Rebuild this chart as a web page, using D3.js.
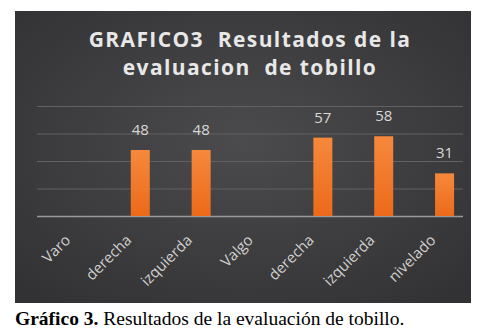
<!DOCTYPE html>
<html>
<head>
<meta charset="utf-8">
<script src="https://cdn.jsdelivr.net/npm/d3@7"></script>
<style>
  body { margin: 0; background: #fff; }
</style>
</head>
<body>
<svg id="chart" width="485" height="328"></svg>
<script>
// data
var categories = ["Varo", "derecha", "izquierda", "Valgo", "derecha ", "izquierda ", "nivelado"];
var values = [null, 48, 48, null, 57, 58, 31];
var yTicks = [0, 20, 40, 60, 80];
var titleLines = ["GRAFICO3  Resultados de la", "evaluacion  de tobillo"];

var svg = d3.select("#chart");
var box = {x: 15, y: 11, w: 456, h: 292};
var plot = {left: 37, right: 463, top: 106, bottom: 216};

var defs = svg.append("defs");
var bg = defs.append("radialGradient").attr("id", "bg")
    .attr("cx", "50%").attr("cy", "45%").attr("r", "70%");
bg.append("stop").attr("offset", "0%").attr("stop-color", "#4b4a4c");
bg.append("stop").attr("offset", "100%").attr("stop-color", "#323133");

var barGrad = defs.append("linearGradient").attr("id", "bar")
    .attr("x1", 0).attr("x2", 0).attr("y1", 0).attr("y2", 1);
barGrad.append("stop").attr("offset", "0%").attr("stop-color", "#f6883c");
barGrad.append("stop").attr("offset", "100%").attr("stop-color", "#ec6a1a");

svg.append("rect")
    .attr("x", box.x).attr("y", box.y)
    .attr("width", box.w).attr("height", box.h)
    .attr("fill", "url(#bg)");

// title
svg.append("g").selectAll("text")
    .data(titleLines)
    .enter().append("text")
      .attr("x", 250)
      .attr("y", function(d, i) { return 47 + i * 28; })
      .attr("text-anchor", "middle")
      .attr("fill", "#e8e8e8")
      .attr("font-family", "Open Sans, sans-serif")
      .attr("font-weight", "bold")
      .attr("font-size", 21)
      .attr("letter-spacing", 1.4)
      .style("white-space", "pre")
      .text(function(d) { return d; });

var x = d3.scaleBand()
    .domain(categories.map(function(d, i) { return i; }))
    .range([plot.left, plot.right]);

var y = d3.scaleLinear()
    .domain([0, 80])
    .range([plot.bottom, plot.top]);

// gridlines
svg.append("g").selectAll("line")
    .data(yTicks)
    .enter().append("line")
      .attr("x1", plot.left).attr("x2", plot.right)
      .attr("y1", function(d) { return y(d) + 0.5; })
      .attr("y2", function(d) { return y(d) + 0.5; })
      .attr("stroke", function(d) { return d === 0 ? "#9a9a9c" : "#626164"; })
      .attr("stroke-width", function(d) { return d === 0 ? 1.5 : 1; });

// bars sit a little right of the label ticks in the original
var shift = 12, barW = 19;
var data = values.map(function(v, i) { return {i: i, v: v}; })
    .filter(function(d) { return d.v != null; });

svg.append("g").selectAll("rect")
    .data(data)
    .enter().append("rect")
      .attr("x", function(d) { return x(d.i) + x.bandwidth() / 2 + shift - barW / 2; })
      .attr("y", function(d) { return y(d.v); })
      .attr("width", barW)
      .attr("height", function(d) { return y(0) - y(d.v); })
      .attr("fill", "url(#bar)");

svg.append("g").selectAll("text")
    .data(data)
    .enter().append("text")
      .attr("x", function(d) { return x(d.i) + x.bandwidth() / 2 + shift; })
      .attr("y", function(d) { return y(d.v) - 15; })
      .attr("text-anchor", "middle")
      .attr("fill", "#d8d8d8")
      .attr("font-family", "Open Sans, sans-serif")
      .attr("font-size", 15)
      .text(function(d) { return d.v; });

// rotated category labels
svg.append("g").selectAll("text")
    .data(categories)
    .enter().append("text")
      .attr("transform", function(d, i) {
        return "translate(" + (x(i) + x.bandwidth() / 2 + 4) + "," + (plot.bottom + 25) + ") rotate(-45)";
      })
      .attr("text-anchor", "end")
      .attr("fill", "#d0d0d0")
      .attr("font-family", "Open Sans, sans-serif")
      .attr("font-size", 15)
      .text(function(d) { return d.trim(); });

// caption
var cap = svg.append("text")
    .attr("x", 15).attr("y", 325)
    .attr("font-family", "Liberation Serif, serif")
    .attr("font-size", 19.5)
    .attr("fill", "#000");
cap.append("tspan").attr("font-weight", "bold").text("Gráfico 3.");
cap.append("tspan").text(" Resultados de la evaluación de tobillo.");
</script>
</body>
</html>
